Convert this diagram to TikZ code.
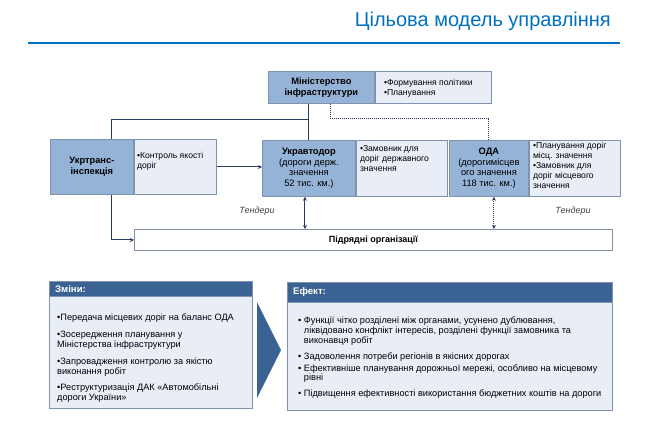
\documentclass[tikz,border=0pt]{standalone}
\usepackage{fontspec}
\setmainfont{Liberation Sans}
\usetikzlibrary{arrows.meta}
\definecolor{titleblue}{RGB}{0,112,192}
\definecolor{boxdark}{RGB}{149,179,215}
\definecolor{boxlight}{RGB}{233,238,246}
\definecolor{boxline}{RGB}{128,146,172}
\definecolor{linecol}{RGB}{38,60,96}
\definecolor{headblue}{RGB}{58,99,148}
\newcommand{\efind}{\hphantom{•\ }}
\begin{document}
\begin{tikzpicture}
	[
	x=1pt, y=-1pt,
	darkbox/.style={anchor=north west, draw=boxline, fill=boxdark, line width=0.8pt, align=center, inner sep=1pt, font=\fontsize{9.3}{10.5}\selectfont},
	lightbox/.style={anchor=north west, draw=boxline, fill=boxlight, line width=0.8pt, inner sep=0pt},
	bullets/.style={anchor=north west, align=left, inner sep=0pt, font=\fontsize{8.6}{10}\selectfont},
	headbox/.style={anchor=north west, draw=boxline, fill=headblue, line width=0.8pt, inner sep=0pt},
	headtext/.style={anchor=west, inner sep=0pt, text=white, font=\bfseries\fontsize{9.6}{11}\selectfont},
	bodytext/.style={anchor=north west, align=left, inner sep=0pt, font=\fontsize{9.2}{9.8}\selectfont},
	conn/.style={draw=linecol, line width=1pt},
	arr/.style={-{Stealth[length=4pt,width=4pt]}},
	arrboth/.style={{Stealth[length=4pt,width=4pt]}-{Stealth[length=4pt,width=4pt]}},
	tender/.style={inner sep=0pt, text=black!75, font=\itshape\fontsize{9}{10}\selectfont}
	]
		\useasboundingbox (0,0) rectangle (650,424);
		
		% title
		\node[anchor=east, inner sep=0pt, text=titleblue, font=\fontsize{20}{24}\selectfont] (title) at (611,21) {Цільова модель управління};
		\draw [titleblue, line width=2.5pt] (28,43) -- (620,43);
		
		% level 1
		\node[darkbox, minimum width=106pt, minimum height=32pt] (min) at (268,71) {\textbf{Міністерство}\\\textbf{інфраструктури}};
		\node[lightbox, minimum width=116pt, minimum height=32pt] (min2) at (min.north east) {};
		\node[bullets] (mint) at ([xshift=9pt,yshift=-8pt]min2.north west) {•Формування політики\\•Планування};
		
		% level 2
		\node[darkbox, minimum width=83pt, minimum height=55pt] (ut) at (50,139) {\textbf{Укртранс-}\\\textbf{інспекція}};
		\node[lightbox, minimum width=82pt, minimum height=55pt] (ut2) at (ut.north east) {};
		\node[bullets] (utt) at ([xshift=3pt,yshift=-13pt]ut2.north west) {•Контроль якості\\доріг};
		
		\node[darkbox, minimum width=93pt, minimum height=56pt] (ua) at (262,140) {\textbf{Укравтодор}\\(дороги держ.\\значення\\52 тис. км.)};
		\node[lightbox, minimum width=91pt, minimum height=56pt] (ua2) at (ua.north east) {};
		\node[bullets] (uat) at ([xshift=4pt,yshift=-5pt]ua2.north west) {•Замовник для\\доріг державного\\значення};
		
		\node[darkbox, minimum width=79pt, minimum height=56pt] (oda) at (449,140) {\textbf{ОДА}\\(дорогимісцев\\ого значення\\118 тис. км.)};
		\node[lightbox, minimum width=91pt, minimum height=56pt] (oda2) at (oda.north east) {};
		\node[bullets] (odat) at ([xshift=4pt,yshift=-2pt]oda2.north west) {•Планування доріг\\місц. значення\\•Замовник для\\доріг місцевого\\значення};
		
		% level 3
		\node[lightbox, fill=white, minimum width=478pt, minimum height=21pt] (sub) at (134,229) {};
		\node[inner sep=0pt, font=\bfseries\fontsize{9}{10}\selectfont] (subt) at (sub.center) {Підрядні організації};
		\node[tender] (t1) at (257,211) {Тендери};
		\node[tender] (t2) at (573,211) {Тендери};
		
		% drawing code
		\coordinate (br) at (308,119);
		\coordinate (utx) at (111,119);
		\coordinate (dt) at (330,118);
		\draw [conn] (ua.north |- min.south) -- (ua.north);
		\draw [conn] (br) -- (utx) -- (utx |- ut.north);
		\draw [conn, densely dotted] (dt |- min.south) -- (dt) -| (oda.north);
		\draw [conn, arr] (ut2.east) -- (ut2.east -| ua.west);
		\draw [conn, arr] (utx |- ut.south) |- (sub.west);
		\draw [conn, arrboth] ([xshift=-4pt]ua.south) -- ([xshift=-4pt]ua.south |- sub.north);
		\draw [conn, arrboth, densely dotted] ([xshift=5pt]oda.south) -- ([xshift=5pt]oda.south |- sub.north);
		
		% changes and effect
		\node[lightbox, minimum width=203pt, minimum height=127pt] (chg) at (49,281) {};
		\node[headbox, minimum width=203pt, minimum height=15pt] (chgh) at (chg.north west) {};
		\node[headtext] (chght) at ([xshift=6pt]chgh.west) {Зміни:};
		\node[bodytext] (chgt) at (57,314) {•Передача місцевих доріг на баланс ОДА\\[7pt]
			•Зосередження планування у\\Міністерства інфраструктури\\[7pt]
			•Запровадження контролю за якістю\\виконання робіт\\[7pt]
			•Реструктуризація ДАК «Автомобільні\\дороги України»};
		
		\fill [headblue] (257,302) -- (281,350) -- (257,398) -- cycle;
		
		\node[lightbox, minimum width=325pt, minimum height=128pt] (eff) at (287,282) {};
		\node[headbox, minimum width=325pt, minimum height=20pt] (effh) at (eff.north west) {};
		\node[headtext] (effht) at ([xshift=6pt]effh.west) {Ефект:};
		\node[bodytext] (efft) at (298,317) {• Функції чітко розділені між органами, усунено дублювання,\\
			\efind ліквідовано конфлікт інтересів, розділені функції замовника та\\
			\efind виконавця робіт\\[6pt]
			• Задоволення потреби регіонів в якісних дорогах\\[2pt]
			• Ефективніше планування дорожньої мережі, особливо на місцевому\\
			\efind рівні\\[6pt]
			• Підвищення ефективності використання бюджетних коштів на дороги};
\end{tikzpicture}
\end{document}
